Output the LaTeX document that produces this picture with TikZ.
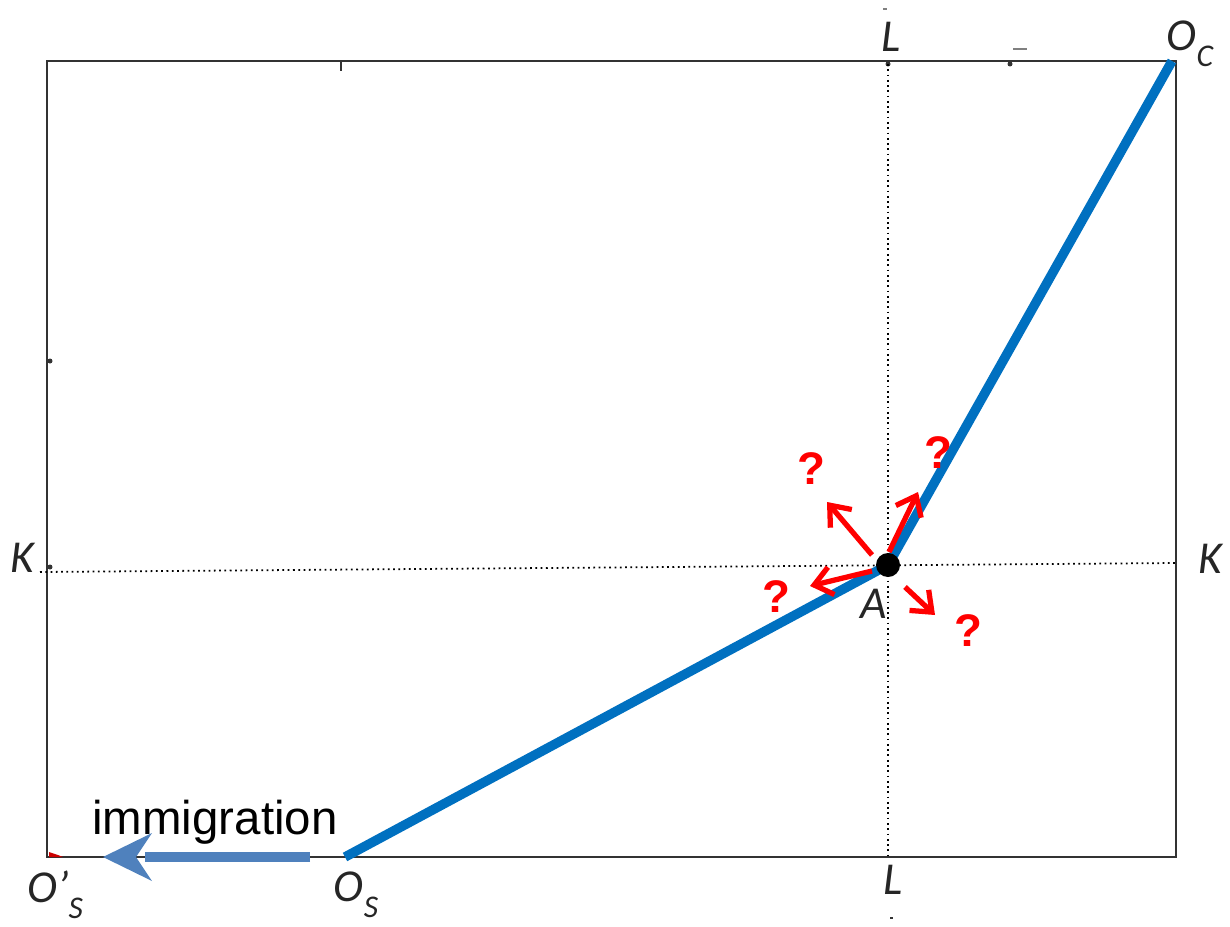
\documentclass[tikz,border=0pt]{standalone}
\usepackage{fontspec}
\setmainfont{Carlito}
\newfontfamily\arialf{Liberation Sans}
\usetikzlibrary{arrows.meta}
\definecolor{lineblue}{HTML}{0070C0}
\definecolor{arrblue}{HTML}{4F81BD}
\definecolor{qred}{HTML}{FF0000}
\definecolor{boxgray}{HTML}{333333}
\tikzset{
  lbl/.style={font=\fontsize{26}{28}\selectfont\itshape, text=black!85, inner sep=0pt},
  qmark/.style={font=\arialf\bfseries\fontsize{26}{28}\selectfont, text=qred, inner sep=0pt},
  redarr/.style={draw=qred, line width=3pt, -{Straight Barb[length=10pt,width=16pt,line width=3pt]}},
  dotl/.style={draw=black, line width=1pt, dotted},
  boxl/.style={draw=boxgray, line width=1.4pt},
  curve/.style={draw=lineblue, line width=5.4pt},
}
\newcommand{\sub}[1]{\raisebox{-0.35em}{\fontsize{18}{19}\selectfont #1}}
\begin{document}
\begin{tikzpicture}[x=0.02cm,y=-0.02cm]
\useasboundingbox (0,0) rectangle (1230,926);
% box
\coordinate (BL) at (47,857);
\coordinate (TR) at (1176,61);
\draw[boxl] (BL) rectangle (TR);
% small marks
\draw[boxgray, line width=1.5pt] (341,61) -- (341,71);
\fill[boxgray] (888,64) circle (2.5);
\fill[boxgray] (1010,64) circle (2.5);
\draw[gray, line width=0.6pt] (1013,49) -- (1027,49);
\draw[gray, line width=0.6pt] (883,9) -- (887,9);
\fill[boxgray] (50,361) circle (2.5);
\fill[boxgray] (50,567) circle (2.5);
\draw[boxgray, line width=0.8pt] (890,918) -- (893,918);
\fill[red!80!black] (49,857) -- (49,852) -- (58,855) -- (63,857) -- cycle;
% dotted guide lines
\coordinate (Ltop) at (888,64);
\coordinate (Lbot) at (888,857);
\coordinate (Kl) at (40,572);
\coordinate (Kr) at (1176,563);
\draw[dotl] (Ltop) -- (Lbot);
\draw[dotl] (Kl) -- (Kr);
% main curve
\coordinate (Os) at (345,857);
\coordinate (A) at (888,565);
\coordinate (Oc) at (1172,61);
\draw[curve] (Os) -- (A) -- (Oc);
% immigration arrow
\coordinate (imS) at (310,857);
\coordinate (imH) at (145,857);
\coordinate (imE) at (103,857);
\draw[draw=arrblue, line width=5.6pt] (imS) -- (imH);
\fill[arrblue] (imE) -- (152,833) -- (136,857) -- (152,881) -- cycle;
\node[font=\arialf\fontsize{27}{30}\selectfont, inner sep=0pt] (imm) at (215,822) {immigration};
% red arrows
\coordinate (r1s) at (889,552); \coordinate (r1e) at (918,492);
\coordinate (r2s) at (872,555); \coordinate (r2e) at (827,502);
\coordinate (r3s) at (872,571); \coordinate (r3e) at (810,586);
\coordinate (r4s) at (905,587); \coordinate (r4e) at (935,615);
\draw[redarr] (r1s) -- (r1e);
\draw[redarr] (r2s) -- (r2e);
\draw[redarr] (r3s) -- (r3e);
\draw[redarr] (r4s) -- (r4e);
\node[qmark] (q1) at (811,469) {?};
\node[qmark] (q2) at (938,453) {?};
\node[qmark] (q3) at (776,597) {?};
\node[qmark] (q4) at (968,631) {?};
% dot A
\fill[black] (A) circle (12);
% labels
\node[lbl] (lA) at (874,604) {A};
\node[lbl] (lLt) at (891,37) {L};
\node[lbl] (lLb) at (893,880) {L};
\node[lbl] (lKl) at (22,558) {K};
\node[lbl] (lKr) at (1210,559) {K};
\node[lbl] (lOc) at (1190,44) {O\sub{C}};
\node[lbl] (lOs) at (356,895) {O\sub{S}};
\node[lbl] (lOps) at (55,895) {O’\sub{S}};
\end{tikzpicture}
\end{document}
